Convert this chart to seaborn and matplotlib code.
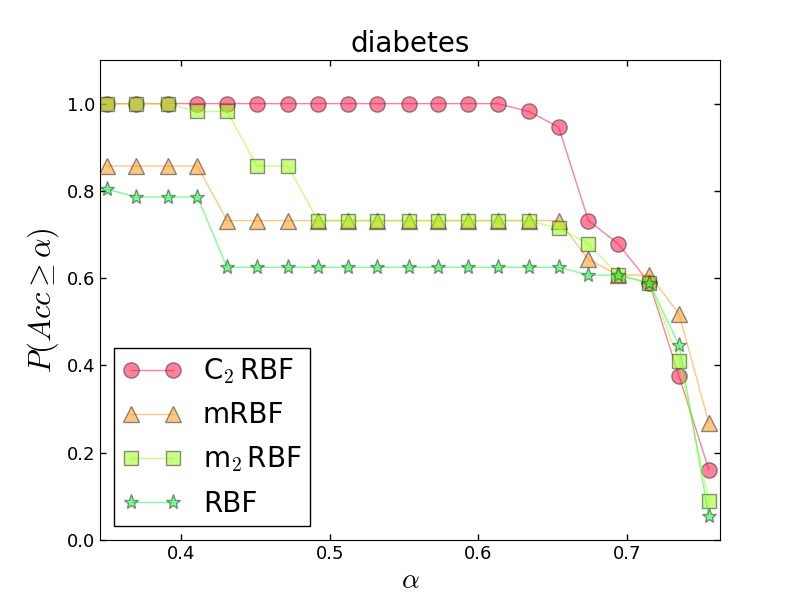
import matplotlib
matplotlib.use("Agg")
import matplotlib.pyplot as plt
import seaborn as sns
import pandas as pd

alpha_vals = [0.350, 0.370, 0.391, 0.411, 0.431, 0.451, 0.472, 0.492, 0.512,
              0.532, 0.553, 0.573, 0.593, 0.613, 0.634, 0.654, 0.674, 0.694,
              0.715, 0.735, 0.755]

c2rbf = [1.000, 1.000, 1.000, 1.000, 1.000, 1.000, 1.000, 1.000, 1.000, 1.000,
         1.000, 1.000, 1.000, 1.000, 0.982, 0.946, 0.732, 0.679, 0.589, 0.375, 0.161]
mrbf = [0.857, 0.857, 0.857, 0.857, 0.732, 0.732, 0.732, 0.732, 0.732, 0.732,
        0.732, 0.732, 0.732, 0.732, 0.732, 0.732, 0.643, 0.607, 0.607, 0.518, 0.268]
m2rbf = [1.000, 1.000, 1.000, 0.982, 0.982, 0.857, 0.857, 0.732, 0.732, 0.732,
         0.732, 0.732, 0.732, 0.732, 0.732, 0.714, 0.679, 0.607, 0.589, 0.411, 0.089]
rbf = [0.804, 0.786, 0.786, 0.786, 0.625, 0.625, 0.625, 0.625, 0.625, 0.625,
       0.625, 0.625, 0.625, 0.625, 0.625, 0.625, 0.607, 0.607, 0.589, 0.446, 0.054]

series_labels = [r"C$_2\,$RBF", "mRBF", r"m$_2\,$RBF", "RBF"]
series_values = [c2rbf, mrbf, m2rbf, rbf]
colors = ["#ff1a4a", "#ff9a1a", "#9cff1a", "#1aff40"]
markers = ["o", "^", "s", "*"]
msizes = [11, 11, 10, 11]

sns.set_style("ticks", {"xtick.direction": "in", "ytick.direction": "in",
                        "xtick.top": True, "ytick.right": True,
                        "axes.edgecolor": "black", "axes.linewidth": 1.0,
                        "text.color": "black", "axes.labelcolor": "black",
                        "xtick.color": "black", "ytick.color": "black"})
plt.rcParams["font.family"] = ["DejaVu Sans"]
plt.rcParams["mathtext.fontset"] = "cm"

fig = plt.figure(figsize=(8, 6), dpi=100)
ax = fig.add_axes([0.125, 0.1, 0.775, 0.8])

for lab, vals, col, mk, ms in zip(series_labels, series_values, colors, markers, msizes):
    df = pd.DataFrame({"alpha": alpha_vals, "p": vals})
    sns.lineplot(data=df, x="alpha", y="p", ax=ax, color=col, marker=mk,
                 markersize=ms, markeredgecolor="#333333", markeredgewidth=1.0,
                 linewidth=1.0, alpha=0.55, label=lab, sort=False)

ax.set_xlim(0.3455, 0.7625)
ax.set_ylim(0.0, 1.1)
ax.set_xticks([0.4, 0.5, 0.6, 0.7])
ax.set_yticks([0.0, 0.2, 0.4, 0.6, 0.8, 1.0])
ax.tick_params(axis="both", which="major", labelsize=13, length=4, width=1,
               direction="in", top=True, right=True, colors="black")
for s in ax.spines.values():
    s.set_visible(True)
    s.set_color("black")

ax.set_title("diabetes", fontsize=20, pad=6, color="black")
ax.set_xlabel(r"$\alpha$", fontsize=20, labelpad=2, color="black")
ax.set_ylabel(r"$P(Acc \geq \alpha)$", fontsize=22, labelpad=4, color="black")

leg = ax.legend(loc="lower left", numpoints=2, fontsize=20, frameon=True,
                fancybox=False, shadow=False, handlelength=2.12,
                handletextpad=0.78, labelspacing=0.55, borderpad=0.3,
                borderaxespad=0.5)
leg.get_frame().set_edgecolor("black")
leg.get_frame().set_linewidth(1.0)
leg.get_frame().set_alpha(1.0)
for t in leg.get_texts():
    t.set_color("black")

fig.savefig("out.png", dpi=100)
